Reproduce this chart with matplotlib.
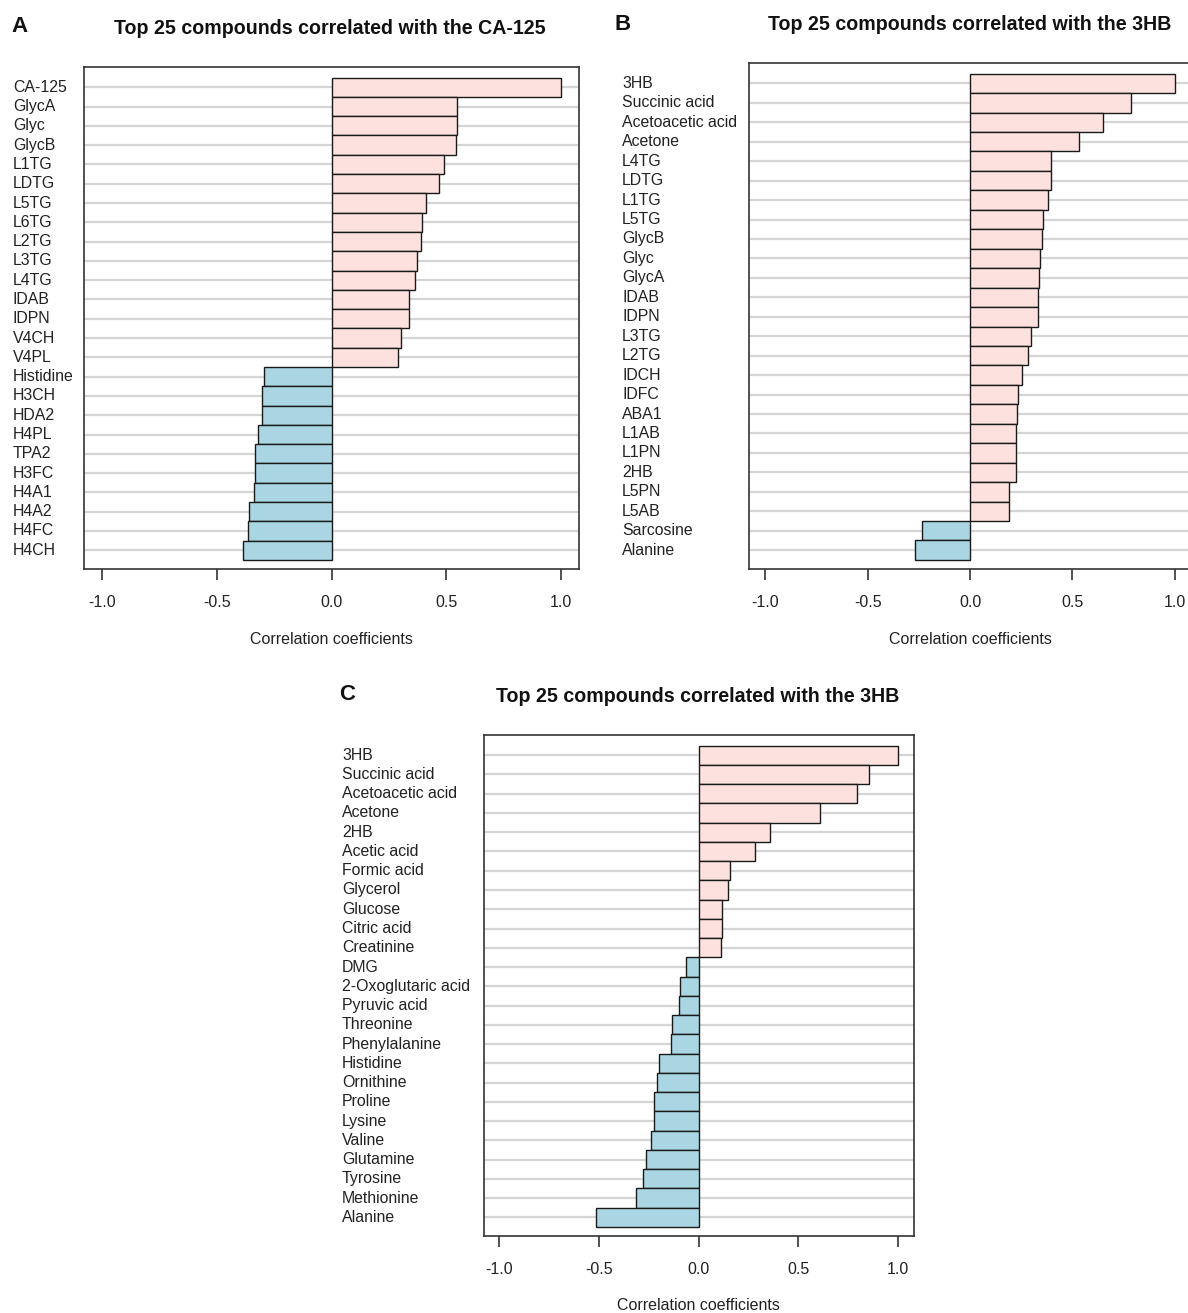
import matplotlib
matplotlib.use("Agg")
import matplotlib.pyplot as plt
from matplotlib.transforms import blended_transform_factory

plt.rcParams['font.family'] = ['Liberation Sans', 'DejaVu Sans']

# Panel A: top 25 compounds correlated with CA-125
names_a = ['CA-125', 'GlycA', 'Glyc', 'GlycB', 'L1TG', 'LDTG', 'L5TG', 'L6TG',
           'L2TG', 'L3TG', 'L4TG', 'IDAB', 'IDPN', 'V4CH', 'V4PL', 'Histidine',
           'H3CH', 'HDA2', 'H4PL', 'TPA2', 'H3FC', 'H4A1', 'H4A2', 'H4FC', 'H4CH']
corr_a = [1.0, 0.548, 0.548, 0.543, 0.492, 0.467, 0.413, 0.396, 0.391, 0.373,
          0.365, 0.336, 0.336, 0.304, 0.289, -0.296, -0.303, -0.303, -0.319,
          -0.334, -0.336, -0.339, -0.360, -0.363, -0.385]

# Panel B: top 25 compounds correlated with 3HB
names_b = ['3HB', 'Succinic acid', 'Acetoacetic acid', 'Acetone', 'L4TG', 'LDTG',
           'L1TG', 'L5TG', 'GlycB', 'Glyc', 'GlycA', 'IDAB', 'IDPN', 'L3TG', 'L2TG',
           'IDCH', 'IDFC', 'ABA1', 'L1AB', 'L1PN', '2HB', 'L5PN', 'L5AB',
           'Sarcosine', 'Alanine']
corr_b = [1.0, 0.785, 0.649, 0.533, 0.395, 0.397, 0.382, 0.358, 0.353, 0.344,
          0.338, 0.331, 0.333, 0.298, 0.281, 0.252, 0.235, 0.228, 0.226, 0.224,
          0.224, 0.193, 0.193, -0.237, -0.268]

# Panel C: top 25 compounds correlated with 3HB (metabolites)
names_c = ['3HB', 'Succinic acid', 'Acetoacetic acid', 'Acetone', '2HB',
           'Acetic acid', 'Formic acid', 'Glycerol', 'Glucose', 'Citric acid',
           'Creatinine', 'DMG', '2-Oxoglutaric acid', 'Pyruvic acid', 'Threonine',
           'Phenylalanine', 'Histidine', 'Ornithine', 'Proline', 'Lysine', 'Valine',
           'Glutamine', 'Tyrosine', 'Methionine', 'Alanine']
corr_c = [1.0, 0.857, 0.796, 0.609, 0.358, 0.283, 0.158, 0.150, 0.119, 0.118,
          0.112, -0.062, -0.091, -0.100, -0.131, -0.137, -0.200, -0.210, -0.222,
          -0.224, -0.237, -0.264, -0.277, -0.316, -0.516]

xticks = [-1.0, -0.5, 0.0, 0.5, 1.0]

W, H = 1188, 1313
fig = plt.figure(figsize=(W / 100, H / 100), dpi=100)


def px_axes(left, top, right, bottom):
    # convert pixel box into figure fraction
    return fig.add_axes([left / W, 1 - bottom / H, (right - left) / W, (bottom - top) / H])


def draw_panel(ax, names, vals, title, letter, label_x, title_xy, letter_xy, xlab_y):
    n = len(names)
    ys = [n - 1 - i for i in range(n)]
    colors = ['#FDE1DE' if v > 0 else '#A9D6E2' for v in vals]
    for y in ys:
        ax.axhline(y, color='#D5D5D5', lw=1.6, zorder=0)
    ax.barh(ys, vals, height=1.0, color=colors, edgecolor='#1a1a1a', lw=1.0, zorder=2)
    ax.set_xlim(-1.08, 1.08)
    # bars span -0.5 .. n-0.5, leave about half a bar of room on each side
    ax.set_ylim(-0.97, n + 0.05)
    ax.set_yticks([])
    ax.set_xticks(xticks)
    ax.set_xticklabels(['%.1f' % t for t in xticks], fontsize=11.5, color='#222222')
    ax.tick_params(axis='x', direction='out', length=8, width=1.2, color='#333333', pad=11)
    for s in ax.spines.values():
        s.set_color('#333333')
        s.set_linewidth(1.2)
    tr = blended_transform_factory(fig.transFigure, ax.transData)
    for y, name in zip(ys, names):
        ax.text(label_x / W, y, name, transform=tr, ha='left', va='center',
                fontsize=11.4, color='#222222')
    fig.text(title_xy[0] / W, 1 - title_xy[1] / H, title, ha='center', va='center',
             fontsize=14.1, fontweight='bold', color='#111111')
    fig.text(letter_xy[0] / W, 1 - letter_xy[1] / H, letter, ha='left', va='center',
             fontsize=16, fontweight='bold', color='#111111')
    # x label centred on zero
    x0 = ax.transData.transform((0, 0))[0]
    fig.text(x0 / fig.bbox.width, 1 - xlab_y / H, 'Correlation coefficients',
             ha='center', va='center', fontsize=11.5, color='#222222')


ax_a = px_axes(84, 67, 579, 569)
ax_b = px_axes(749, 63, 1191, 569)
ax_c = px_axes(483.5, 735, 913.6, 1236)

draw_panel(ax_a, names_a, corr_a, 'Top 25 compounds correlated with the CA-125', 'A',
           13, (330, 28), (11, 27), 640)
draw_panel(ax_b, names_b, corr_b, 'Top 25 compounds correlated with the 3HB', 'B',
           622, (970, 25), (614, 25), 640)
draw_panel(ax_c, names_c, corr_c, 'Top 25 compounds correlated with the 3HB', 'C',
           342, (698, 697), (339, 694), 1306)

fig.savefig('out.png', dpi=100, facecolor='white')
